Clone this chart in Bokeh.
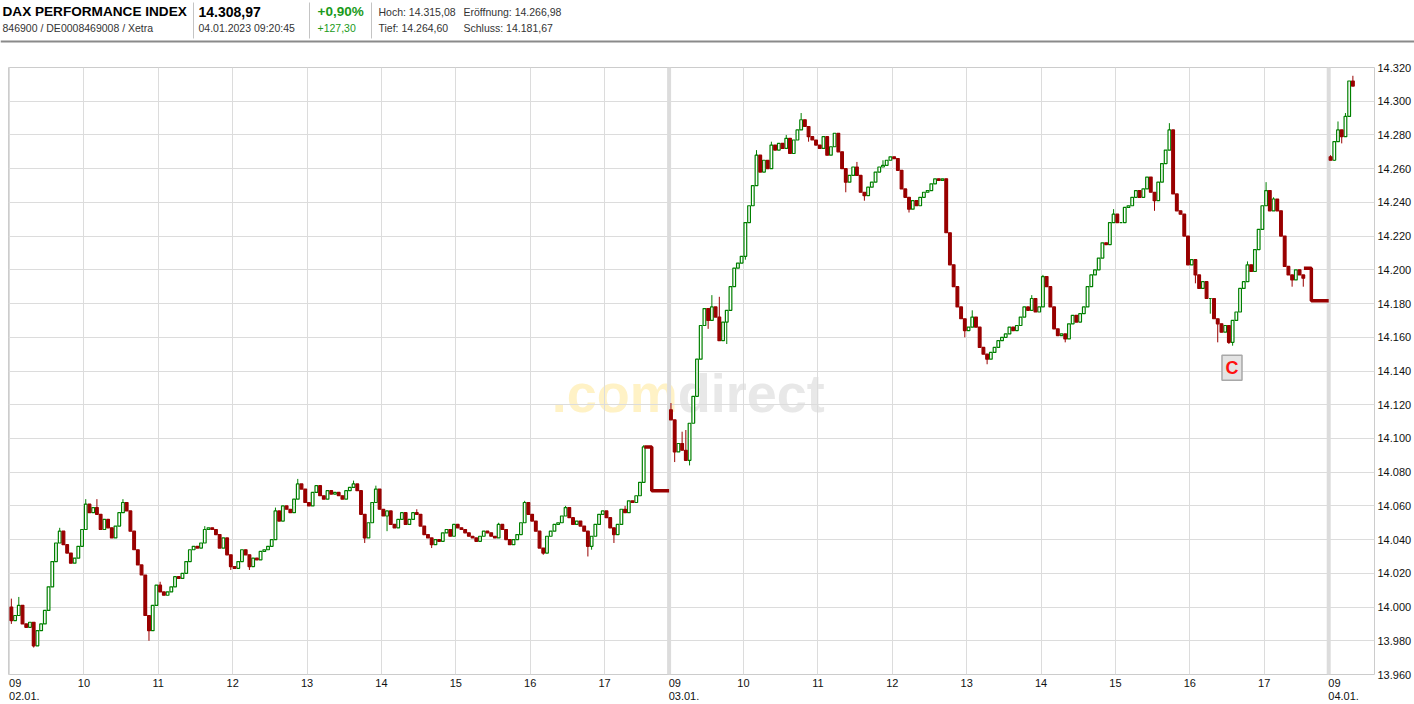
from bokeh.plotting import figure
from bokeh.models import Range1d, FixedTicker, Span, ColumnDataSource, LinearAxis
from bokeh.layouts import column
from bokeh.embed import file_html
from bokeh.resources import INLINE
from bokeh.core.properties import value

FONT = "Liberation Sans"
GREEN = "#008000"
RED = "#990000"
GRID = "#dcdcdc"

# ---------------- data ----------------
dates = ["02.01.", "03.01.", "04.01."]
session_hours = [9, 10, 11, 12, 13, 14, 15, 16, 17]
candle_minutes = 3
y_ticks = list(range(13960, 14321, 20))

day1_open = 14000
day1_close = [
    13992, 13995, 14001, 13990, 13988, 13991, 13977, 13986, 13990, 13998,
    14012, 14027, 14038, 14045, 14037, 14032, 14026, 14029, 14036, 14046,
    14061, 14056, 14059, 14055, 14046, 14052, 14047, 14041, 14048, 14056,
    14062, 14057, 14045, 14034, 14025, 14019, 13995, 13986, 14001, 14013,
    14009, 14007, 14009, 14012, 14018, 14017, 14020, 14027, 14034, 14036,
    14035, 14038, 14046, 14047, 14046, 14043, 14035, 14041, 14031, 14024,
    14023, 14027, 14034, 14031, 14024, 14029, 14028, 14033, 14034, 14036,
    14040, 14057, 14051, 14060, 14058, 14056, 14064, 14073, 14070, 14062,
    14060, 14068, 14072, 14066, 14064, 14069, 14067, 14068, 14066, 14064,
    14069, 14071, 14073, 14069, 14055, 14041, 14050, 14062, 14070, 14058,
    14054, 14057, 14049, 14047, 14052, 14056, 14049, 14052, 14056, 14055,
    14048, 14043, 14041, 14037, 14040, 14039, 14044, 14046, 14042, 14049,
    14047, 14046, 14044, 14042, 14041, 14039, 14042, 14045, 14044, 14042,
    14041, 14049, 14046, 14040, 14037, 14040, 14043, 14050, 14062, 14055,
    14051, 14045, 14035, 14032, 14042, 14045, 14049, 14050, 14054, 14059,
    14053, 14049, 14051, 14048, 14045, 14036, 14042, 14049, 14055, 14057,
    14053, 14047, 14043, 14049, 14058, 14056, 14063, 14062, 14066, 14074,
    14095,
]
day1_high = {0: 14005, 2: 14006, 13: 14047, 20: 14064, 23: 14064, 30: 14064,
             77: 14076, 92: 14075, 98: 14072, 109: 14058, 131: 14050,
             138: 14063, 149: 14060, 165: 14060, 170: 14096, 40: 14015,
             52: 14048, 71: 14059}
day1_low = {0: 13990, 6: 13976, 37: 13980, 59: 14022, 95: 14038, 101: 14045,
            143: 14031, 155: 14030, 162: 14038, 156: 14034, 10: 14006,
            113: 14035, 64: 14022}

day2_open = 14117
day2_close = [
    14111, 14092, 14097, 14093, 14087, 14109, 14125, 14147, 14167, 14177,
    14170, 14178, 14172, 14158, 14169, 14176, 14190, 14201, 14204, 14208,
    14228, 14238, 14250, 14268, 14258, 14265, 14260, 14274, 14271, 14275,
    14272, 14278, 14269, 14277, 14283, 14289, 14285, 14279, 14277, 14274,
    14272, 14279, 14268, 14273, 14281, 14270, 14260, 14252, 14256, 14261,
    14256, 14246, 14244, 14249, 14252, 14258, 14261, 14262, 14265, 14267,
    14266, 14259, 14248, 14243, 14236, 14241, 14238, 14243, 14246, 14247,
    14251, 14254, 14253, 14254, 14222, 14203, 14190, 14178, 14171, 14164,
    14166, 14172, 14166, 14154, 14150, 14147, 14151, 14154, 14158, 14160,
    14162, 14166, 14164, 14167, 14172, 14178, 14176, 14183, 14175, 14178,
    14196, 14190, 14178, 14165, 14161, 14162, 14159, 14168, 14173, 14169,
    14174, 14178, 14190, 14197, 14200, 14207, 14216, 14215, 14228, 14233,
    14228, 14228, 14237, 14238, 14243, 14247, 14243, 14248, 14255, 14246,
    14241, 14252, 14263, 14271, 14283, 14245, 14235, 14233, 14220, 14203,
    14206, 14197, 14189, 14193, 14183, 14183, 14171, 14168, 14163, 14167,
    14157, 14170, 14175, 14189, 14193, 14203, 14199, 14212, 14224, 14238,
    14247, 14235, 14242, 14235, 14220, 14202, 14197, 14194, 14200, 14197,
    14195,
]
day2_high = {0: 14121, 3: 14104, 4: 14105, 11: 14185, 13: 14184, 23: 14271,
             27: 14276, 31: 14280, 35: 14293, 50: 14264, 57: 14265, 59: 14267,
             100: 14197, 119: 14236, 134: 14287, 155: 14205, 160: 14252,
             162: 14243, 81: 14176, 97: 14185}
day2_low = {1: 14086, 5: 14084, 10: 14165, 15: 14156, 47: 14246, 52: 14241,
            64: 14234, 85: 14144, 106: 14157, 130: 14235, 141: 14192,
            147: 14157, 150: 14156, 151: 14155, 167: 14190, 170: 14190,
            145: 14174, 79: 14160, 37: 14276, 20: 14206}

day3_open = 14267
day3_close = [14265, 14276, 14283, 14279, 14291, 14312, 14308.97]
day3_high = {0: 14268, 2: 14288, 4: 14293, 6: 14315.08}
day3_low = {1: 14264.60, 3: 14275}

auction_last = [14095, 14201]
auction_close = [14069, 14181.67]
auction_minute = 8 * 60 + 38        # minutes after 09:00 (17:38)

event_minute = 7 * 60 + 34          # 16:34 on 03.01.
event_value = 14142
event_label = "C"

header_title = "DAX PERFORMANCE INDEX"
header_ids = "846900 / DE0008469008 / Xetra"
header_last = "14.308,97"
header_stamp = "04.01.2023 09:20:45"
header_pct = "+0,90%"
header_abs = "+127,30"
header_stats = ["Hoch: 14.315,08", "Tief: 14.264,60",
                "Eröffnung: 14.266,98", "Schluss: 14.181,67"]

# ---------------- layout constants ----------------
W = 1414
HEAD_H = 44
CHART_H = 660
LEFT_B = 8
TOP_B = 23
BOT_B = 27
RIGHT_B = 38
FRAME_W = W - LEFT_B - RIGHT_B
PX_PER_MIN = 74.5 / 60
DAYSPAN = 532                       # axis minutes per session (09:00 -> 17:52)
X0 = -1.0 / PX_PER_MIN
X1 = X0 + FRAME_W / PX_PER_MIN
Y0, Y1 = y_ticks[0], y_ticks[-1]


def xpos(day, minutes_after_open):
    return day * DAYSPAN + minutes_after_open


# ---------------- candles ----------------
days = [(day1_open, day1_close, day1_high, day1_low),
        (day2_open, day2_close, day2_high, day2_low),
        (day3_open, day3_close, day3_high, day3_low)]

up = dict(x=[], top=[], bottom=[], high=[], low=[])
dn = dict(x=[], top=[], bottom=[], high=[], low=[])
for d, (o0, closes, hs, ls) in enumerate(days):
    prev = o0
    for i, c in enumerate(closes):
        o = prev
        x = xpos(d, i * candle_minutes + candle_minutes / 2)
        tgt = up if c >= o else dn
        tgt["x"].append(x)
        tgt["top"].append(max(o, c))
        tgt["bottom"].append(min(o, c))
        tgt["high"].append(max(hs.get(i, c), o, c))
        tgt["low"].append(min(ls.get(i, c), o, c))
        prev = c

up_src = ColumnDataSource(up)
dn_src = ColumnDataSource(dn)

p = figure(width=W, height=CHART_H, output_backend="svg", toolbar_location=None,
           x_range=Range1d(X0, X1), y_range=Range1d(Y0, Y1),
           x_axis_location=None, y_axis_location="right",
           min_border_left=LEFT_B, min_border_right=RIGHT_B,
           min_border_top=TOP_B, min_border_bottom=BOT_B)
p.background_fill_color = "white"
p.border_fill_color = "white"
p.outline_line_color = "#cccccc"

ax = p.yaxis[0]
ax.ticker = FixedTicker(ticks=y_ticks)
ax.major_label_overrides = {v: f"{v // 1000}.{v % 1000:03d}" for v in y_ticks}
ax.major_label_text_font = FONT
ax.major_label_text_font_size = "11px"
ax.major_label_text_color = "#111111"
ax.major_label_standoff = 3
ax.major_tick_out = 0
ax.major_tick_in = 0
ax.minor_tick_out = 0
ax.minor_tick_in = 0
ax.axis_line_color = None
p.ygrid.grid_line_color = GRID

# x axis labels: hours centred on their tick; session-start labels (two lines)
# start at the session line, so they are anchored half a date-width to the right
grid_ticks = []
label_ticks = []
label_text = {}
DATE_SHIFT = 12   # minutes, ~ half the width of a date label
NB = "\u00a0"
for d in range(3):
    hrs = session_hours if d < 2 else [9]
    for hr in hrs:
        t = xpos(d, (hr - 9) * 60)
        grid_ticks.append(t)
        if hr == 9:
            label_ticks.append(t + DATE_SHIFT)
            label_text[t + DATE_SHIFT] = f"{hr:02d}" + NB * 6 + "\n" + dates[d]
        else:
            label_ticks.append(t)
            label_text[t] = f"{hr:02d}"

xa = LinearAxis(ticker=FixedTicker(ticks=label_ticks))
xa.major_label_overrides = label_text
xa.major_label_text_font = FONT
xa.major_label_text_font_size = "11px"
xa.major_label_text_color = "#111111"
xa.major_label_text_line_height = 1.1
xa.major_label_standoff = 2
xa.major_tick_out = 0
xa.major_tick_in = 0
xa.minor_tick_out = 0
xa.minor_tick_in = 0
xa.axis_line_color = None
p.add_layout(xa, "below")
for g in p.xgrid:
    g.ticker = FixedTicker(ticks=grid_ticks)
    g.grid_line_color = GRID

for d in (1, 2):
    p.add_layout(Span(location=xpos(d, 0), dimension="height", line_color="#dcdcdc",
                      line_width=4, level="underlay"))

# watermark
split_x = xpos(1, 7)
p.text(x=[split_x], y=[14127], text=[".com"], text_align="right", text_baseline="alphabetic",
       text_font=value(FONT), text_font_style="bold", text_font_size="54px",
       text_color="#fff2c6", level="image")
p.text(x=[split_x], y=[14127], text=["direct"], text_align="left", text_baseline="alphabetic",
       text_font=value(FONT), text_font_style="bold", text_font_size="54px",
       text_color="#e8e8e8", level="image")

# wicks then bodies
p.segment(x0="x", y0="high", x1="x", y1="low", source=up_src, line_color=GREEN, line_width=1)
p.segment(x0="x", y0="high", x1="x", y1="low", source=dn_src, line_color=RED, line_width=1)
BODY_W = 2.2
p.vbar(x="x", width=BODY_W, top="top", bottom="bottom", source=up_src,
       fill_color="white", line_color=GREEN, line_width=1.2)
p.vbar(x="x", width=BODY_W, top="top", bottom="bottom", source=dn_src,
       fill_color=RED, line_color=RED, line_width=1.2)

# closing auction steps
for d in range(2):
    n = len(days[d][1])
    t_end = n * candle_minutes
    xs = [xpos(d, t_end - 1), xpos(d, auction_minute), xpos(d, auction_minute), xpos(d + 1, 0)]
    ys = [auction_last[d], auction_last[d], auction_close[d], auction_close[d]]
    p.line(xs, ys, line_color=RED, line_width=3.5)

# event marker
ex = xpos(1, event_minute)
p.rect(x=[ex], y=[event_value], width=20, height=25, width_units="screen",
       height_units="screen", fill_color="#e3e3e3", line_color="#a8a8a8", line_width=1.5)
p.text(x=[ex], y=[event_value], text=[event_label], text_align="center", text_baseline="middle",
       text_font=value(FONT), text_font_style="bold", text_font_size="18px", text_color="#ff1010")

# ---------------- header ----------------
h = figure(width=W, height=HEAD_H, output_backend="svg", toolbar_location=None,
           x_range=Range1d(0, W), y_range=Range1d(HEAD_H, 0),
           x_axis_location=None, y_axis_location=None, min_border=0)
if "frame_align" in h.properties():
    h.frame_align = False
h.outline_line_color = None
h.background_fill_color = "white"
h.border_fill_color = "white"
for g in h.grid:
    g.visible = False

L1, L2 = 11, 27


def htext(x, y, s, size, color, bold=False):
    h.text(x=[x], y=[y], text=[s], text_align="left", text_baseline="middle",
           text_font=value(FONT), text_font_size=size,
           text_font_style="bold" if bold else "normal", text_color=color)


htext(2, L1, header_title, "13.6px", "#000000", True)
htext(2, L2, header_ids, "10.5px", "#333333")
htext(198, L1, header_last, "14px", "#000000", True)
htext(198, L2, header_stamp, "10.5px", "#333333")
htext(317, L1, header_pct, "13.5px", "#1a9a1a", True)
htext(317, L2, header_abs, "10.5px", "#1a9a1a")
htext(378, L1, header_stats[0], "10.5px", "#333333")
htext(378, L2, header_stats[1], "10.5px", "#333333")
htext(463, L1, header_stats[2], "10.5px", "#333333")
htext(463, L2, header_stats[3], "10.5px", "#333333")
h.segment(x0=[193, 309, 371], y0=[2, 2, 2], x1=[193, 309, 371], y1=[38, 38, 38],
          line_color="#c4c4c4", line_width=1)
h.segment(x0=[0], y0=[41], x1=[W], y1=[41], line_color="#8a8a8a", line_width=2)

layout = column(h, p, spacing=0)
open("out.html", "w").write(file_html(layout, INLINE))
